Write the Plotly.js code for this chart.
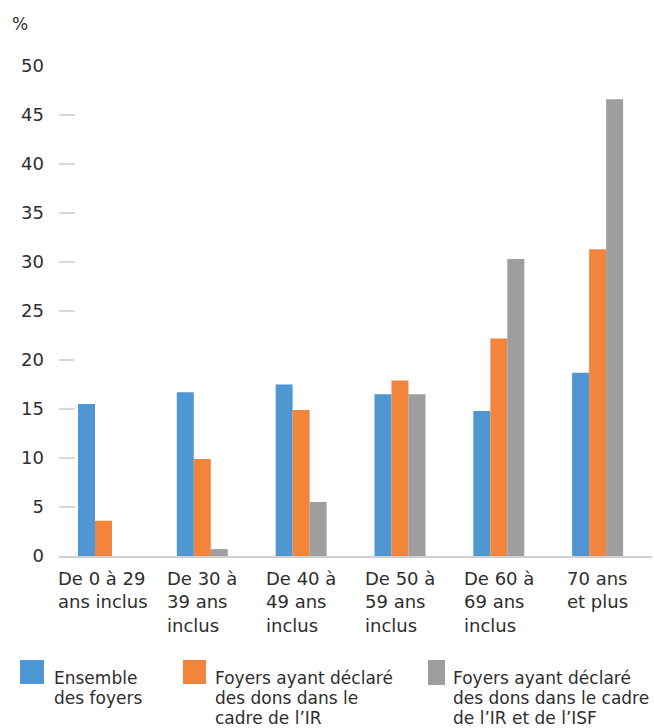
<!DOCTYPE html>
<html>
<head>
<meta charset="utf-8">
<script src="https://cdn.plot.ly/plotly-3.0.1.min.js"></script>
<style>html,body{margin:0;padding:0;background:#fff;}#chart{width:654px;height:728px;}</style>
</head>
<body>
<div id="chart"></div>
<script>
// ---- data ----
const categories = ["De 0 à 29 ans inclus", "De 30 à 39 ans inclus", "De 40 à 49 ans inclus", "De 50 à 59 ans inclus", "De 60 à 69 ans inclus", "70 ans et plus"];
const categoryLabels = ["De 0 à 29<br>ans inclus", "De 30 à<br>39 ans<br>inclus", "De 40 à<br>49 ans<br>inclus", "De 50 à<br>59 ans<br>inclus", "De 60 à<br>69 ans<br>inclus", "70 ans<br>et plus"];
const seriesNames = ["Ensemble des foyers", "Foyers ayant déclaré des dons dans le cadre de l’IR", "Foyers ayant déclaré des dons dans le cadre de l’IR et de l’ISF"];
const legendLines = [
  ["Ensemble", "des foyers"],
  ["Foyers ayant déclaré", "des dons dans le", "cadre de l’IR"],
  ["Foyers ayant déclaré", "des dons dans le cadre", "de l’IR et de l’ISF"]
];
const ensemble = [15.5, 16.7, 17.5, 16.5, 14.8, 18.7];
const foyersIR = [3.6, 9.9, 14.9, 17.9, 22.2, 31.3];
const foyersIRISF = [null, 0.7, 5.5, 16.5, 30.3, 46.6];
const yTicks = [0, 5, 10, 15, 20, 25, 30, 35, 40, 45, 50];

// ---- style ----
const colors = ["#4f97d3", "#f2843c", "#9d9ea0"];
const FONT = "DejaVu Sans";
const TXT = "#2e2e2e";
const W = 654, H = 728;
const M = {l: 59, r: 2, t: 66, b: 172};
const PW = W - M.l - M.r, PH = H - M.t - M.b;
const px2x = px => (px - M.l) / PW;
const px2y = py => (H - M.b - py) / PH;

const traces = [ensemble, foyersIR, foyersIRISF].map((vals, i) => ({
  type: "bar",
  name: seriesNames[i],
  x: categories,
  y: vals,
  marker: {color: colors[i], line: {width: 0}},
  hoverinfo: "skip"
}));

const annotations = [];
categories.forEach((c, i) => {
  annotations.push({
    xref: "x", yref: "paper", x: c, y: 0, yanchor: "top", xanchor: "center",
    yshift: -10, align: "left", showarrow: false,
    text: categoryLabels[i], font: {family: FONT, size: 18, color: TXT}
  });
});
annotations.push({
  xref: "paper", yref: "paper", x: px2x(10), y: px2y(12), xanchor: "left", yanchor: "top",
  showarrow: false, text: "%", font: {family: FONT, size: 17, color: TXT}
});

const legendSquares = [[20, 44, 660, 684], [183, 206, 660, 684], [428, 445, 660, 685]];
const legendTextX = [52, 213, 451];
const shapes = [];
legendSquares.forEach((s, i) => {
  shapes.push({type: "rect", xref: "paper", yref: "paper",
    x0: px2x(s[0]), x1: px2x(s[1]), y0: px2y(s[3]), y1: px2y(s[2]),
    fillcolor: colors[i], line: {width: 0}});
  legendLines[i].forEach((line, k) => {
    annotations.push({
      xref: "paper", yref: "paper", x: px2x(legendTextX[i]), y: px2y(678 + 20 * k),
      xanchor: "left", yanchor: "middle", align: "left", showarrow: false,
      text: line, font: {family: FONT, size: 17, color: TXT}
    });
  });
});

const layout = {
  width: W, height: H,
  margin: M,
  paper_bgcolor: "#fff", plot_bgcolor: "#fff",
  barmode: "group", bargap: 0.484, bargroupgap: 0,
  showlegend: false,
  font: {family: FONT, size: 18, color: TXT},
  xaxis: {
    type: "category", range: [-0.45, 5.55], showticklabels: false,
    showline: true, linecolor: "#d0d0d0", linewidth: 2, ticks: "", showgrid: false, zeroline: false, fixedrange: true
  },
  yaxis: {
    range: [0, 50], tickvals: yTicks, ticktext: yTicks.map(String),
    ticks: "inside", ticklen: 16, tickwidth: 2, tickcolor: "#d8d8d8",
    showline: false, showgrid: false, zeroline: false, ticklabelstandoff: 14,
    tickfont: {family: FONT, size: 18, color: TXT}, fixedrange: true
  },
  annotations: annotations,
  shapes: shapes
};

Plotly.newPlot("chart", traces, layout, {displayModeBar: false, staticPlot: true});
</script>
</body>
</html>
